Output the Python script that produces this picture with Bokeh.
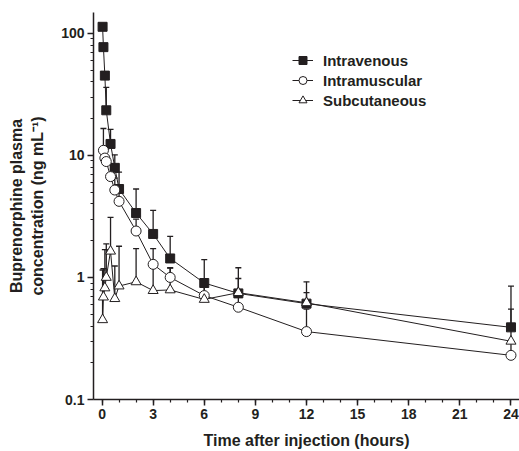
from bokeh.plotting import figure
from bokeh.models import (ColumnDataSource, Whisker, TeeHead, FixedTicker, Range1d,
                          Legend, LegendItem, CustomJSTickFormatter)
from bokeh.embed import file_html
from bokeh.resources import INLINE

# ---- data (hours, ng/mL) ----
iv_time = [0.033, 0.083, 0.167, 0.25, 0.5, 0.75, 1, 2, 3, 4, 6, 8, 12, 24]
iv_mean = [113, 77, 45, 23.4, 12.4, 7.9, 5.3, 3.37, 2.27, 1.43, 0.90, 0.74, 0.61, 0.39]
iv_sd   = [0, 0, 0, 12.6, 3.9, 2.2, 2.0, 1.93, 1.27, 0.74, 0.50, 0.46, 0.31, 0.46]

im_time = [0.083, 0.167, 0.25, 0.5, 0.75, 1, 2, 3, 4, 6, 8, 12, 24]
im_mean = [11.0, 9.5, 8.9, 6.7, 5.2, 4.2, 2.4, 1.28, 1.0, 0.71, 0.57, 0.36, 0.23]
im_sd   = [5.6, 2.5, 2.4, 1.8, 1.3, 1.0, 0.6, 0.44, 0.2, 0.2, 0.18, 0.19, 0.07]

sc_time = [0.033, 0.083, 0.167, 0.25, 0.5, 0.75, 1, 2, 3, 4, 6, 8, 12, 24]
sc_mean = [0.45, 0.69, 0.82, 1.0, 1.64, 0.67, 0.85, 0.92, 0.78, 0.79, 0.66, 0.75, 0.62, 0.30]
sc_sd   = [0.70, 0.49, 0.87, 0.88, 1.46, 0.57, 0.95, 0.80, 0.47, 0.4, 0.2, 0.23, 0.13, 0.25]

x_ticks = [0, 3, 6, 9, 12, 15, 18, 21, 24]
y_ticks = [0.1, 1, 10, 100]

INK = "#231f20"
FONT = "Liberation Sans"

p = figure(width=519, height=451, y_axis_type="log",
           x_range=Range1d(-0.5, 24.5), y_range=Range1d(0.1, 148),
           output_backend="svg", toolbar_location=None,
           min_border_left=93, min_border_right=0, min_border_top=12, min_border_bottom=50)
p.grid.visible = False
p.outline_line_color = None
p.background_fill_color = "white"

series = [
    ("Intravenous", iv_time, iv_mean, iv_sd, "square", 9, INK),
    ("Intramuscular", im_time, im_mean, im_sd, "circle", 10, "white"),
    ("Subcutaneous", sc_time, sc_mean, sc_sd, "triangle", 10, "white"),
]

items = []
for label, t, m, sd, mk, sz, fill in series:
    wt = [a for a, s in zip(t, sd) if s > 0]
    wm = [b for b, s in zip(m, sd) if s > 0]
    wu = [b + s for b, s in zip(m, sd) if s > 0]
    wsrc = ColumnDataSource(dict(t=wt, lo=wm, up=wu))
    w = Whisker(base="t", upper="up", lower="lo", source=wsrc, level="underlay",
                line_color=INK, line_width=1.3,
                upper_head=TeeHead(size=6, line_color=INK, line_width=1.3),
                lower_head=None)
    p.add_layout(w)

for label, t, m, sd, mk, sz, fill in series:
    src = ColumnDataSource(dict(t=t, m=m))
    ln = p.line("t", "m", source=src, line_color=INK, line_width=1)
    items.append((label, ln, src, mk, sz, fill))

for label, ln, src, mk, sz, fill in items:
    sc = p.scatter("t", "m", source=src, marker=mk, size=sz, fill_color=fill,
                   line_color=INK, line_width=1)
    ln.tags = [sc]

legend = Legend(items=[LegendItem(label=lab, renderers=[ln, ln.tags[0]]) for lab, ln, *_ in items],
                location=(199, 289), orientation="vertical")
legend.background_fill_alpha = 0
legend.border_line_color = None
legend.padding = 0
legend.margin = 0
legend.spacing = 0
legend.label_height = 20
legend.glyph_height = 20
legend.glyph_width = 21
legend.label_standoff = 10
legend.label_text_font = FONT
legend.label_text_font_size = "15px"
legend.label_text_font_style = "bold"
legend.label_text_color = INK
p.add_layout(legend)

p.xaxis.ticker = FixedTicker(ticks=x_ticks, minor_ticks=list(range(0, 25)))
p.yaxis.ticker = FixedTicker(ticks=y_ticks,
                             minor_ticks=[k * d for d in (0.1, 1, 10, 100) for k in range(2, 10)])
p.yaxis.formatter = CustomJSTickFormatter(code="return tick.toString();")

for ax in (p.xaxis, p.yaxis):
    ax.axis_line_color = INK
    ax.axis_line_width = 1.5
    ax.major_tick_line_color = INK
    ax.major_tick_line_width = 1.5
    ax.minor_tick_line_color = INK
    ax.minor_tick_line_width = 1.2
    ax.major_tick_in = 0
    ax.major_tick_out = 6
    ax.minor_tick_in = 0
    ax.minor_tick_out = 3
    ax.major_label_text_font = FONT
    ax.major_label_text_font_size = "14px"
    ax.major_label_text_font_style = "bold"
    ax.major_label_text_color = INK
    ax.axis_label_text_font = FONT
    ax.axis_label_text_font_size = "16px"
    ax.axis_label_text_font_style = "bold"
    ax.axis_label_text_color = INK

p.xaxis.axis_label = "Time after injection (hours)"
p.yaxis.axis_label = "Buprenorphine plasma\nconcentration (ng mL\u207b\u00b9)"
p.yaxis.axis_label_text_line_height = 1.25
p.xaxis.major_label_standoff = 3
p.yaxis.major_label_standoff = 3
p.xaxis.axis_label_standoff = 10
p.yaxis.axis_label_standoff = 12

open("out.html", "w").write(file_html(p, INLINE))
